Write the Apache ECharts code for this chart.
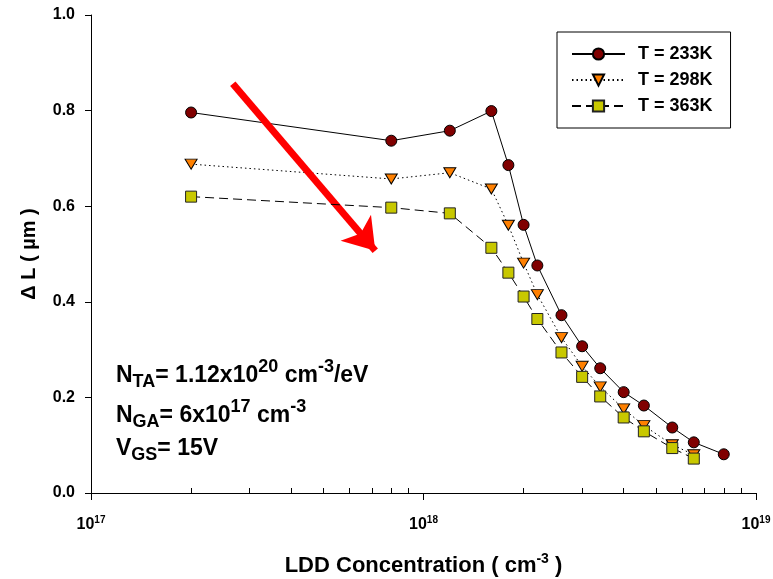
<!DOCTYPE html>
<html><head><meta charset="utf-8">
<script src="https://cdn.jsdelivr.net/npm/echarts@6/dist/echarts.min.js"></script>
<style>html,body{margin:0;padding:0;background:#fff}#c{width:773px;height:579px}</style>
</head><body><div id="c"></div>
<script>
const seriesNames = ['T = 233K', 'T = 298K', 'T = 363K'];
const conc233 = [2e17, 8e17, 1.2e18, 1.6e18, 1.8e18, 2e18, 2.2e18, 2.6e18, 3e18, 3.4e18, 4e18, 4.6e18, 5.6e18, 6.5e18, 8e18];
const dL233   = [0.796, 0.737, 0.758, 0.799, 0.686, 0.561, 0.476, 0.372, 0.307, 0.261, 0.211, 0.183, 0.137, 0.106, 0.081];
const conc298 = [2e17, 8e17, 1.2e18, 1.6e18, 1.8e18, 2e18, 2.2e18, 2.6e18, 3e18, 3.4e18, 4e18, 4.6e18, 5.6e18, 6.5e18];
const dL298   = [0.688, 0.657, 0.670, 0.636, 0.560, 0.481, 0.415, 0.325, 0.265, 0.222, 0.176, 0.141, 0.101, 0.080];
const conc363 = [2e17, 8e17, 1.2e18, 1.6e18, 1.8e18, 2e18, 2.2e18, 2.6e18, 3e18, 3.4e18, 4e18, 4.6e18, 5.6e18, 6.5e18];
const dL363   = [0.620, 0.597, 0.585, 0.513, 0.461, 0.411, 0.364, 0.294, 0.243, 0.202, 0.158, 0.129, 0.094, 0.072];
const xMajorTicks = [1e17, 1e18, 1e19];
const xMinorTicks = [2e17, 3e17, 4e17, 5e17, 6e17, 7e17, 8e17, 9e17, 2e18, 3e18, 4e18, 5e18, 6e18, 7e18, 8e18, 9e18];
const yTicks = [0, 0.2, 0.4, 0.6, 0.8, 1.0];
const arrowStart = [2.67e17, 0.856];
const arrowEnd = [7.16e17, 0.507];

const FF = "'Liberation Sans', Arial, Helvetica, sans-serif";

function pairs(xs, ys) { return xs.map((x, i) => [x, ys[i]]); }

const chart = echarts.init(document.getElementById('c'), null, {renderer: 'canvas'});

const supRich = {
  n: {fontSize: 23, fontWeight: 'bold', fontFamily: FF, fill: '#000', color: '#000'},
  sub: {fontSize: 18, fontWeight: 'bold', fontFamily: FF, fill: '#000', color: '#000', padding: [13, 0, 0, 0]},
  sup: {fontSize: 18, fontWeight: 'bold', fontFamily: FF, fill: '#000', color: '#000', padding: [0, 0, 17, 0]}
};

const option = {
  animation: false,
  backgroundColor: '#fff',
  grid: {left: 91, right: 17, top: 15, bottom: 86, containLabel: false, outerBoundsMode: 'none'},
  legend: {
    data: seriesNames,
    orient: 'vertical',
    left: 557, top: 32,
    padding: [13, 18, 13, 14],
    itemGap: 8,
    itemWidth: 53, itemHeight: 14,
    borderColor: '#000', borderWidth: 1, borderRadius: 0,
    backgroundColor: '#fff',
    textStyle: {fontSize: 18, fontWeight: 'bold', color: '#000', fontFamily: FF, padding: [0, 0, 0, 8]}
  },
  xAxis: [{
    type: 'log', logBase: 10, min: 1e17, max: 1e19, position: 'bottom',
    name: 'LDD Concentration ( cm{sup|-3} )',
    nameLocation: 'middle', nameGap: 59,
    nameTextStyle: {
      fontSize: 22, fontWeight: 'bold', color: '#000', fontFamily: FF,
      rich: {sup: {fontSize: 14, fontWeight: 'bold', color: '#000', fontFamily: FF, padding: [0, 0, 13, 0]}}
    },
    axisLine: {show: true, lineStyle: {color: '#000', width: 1}},
    axisTick: {show: true, inside: false, length: 7, customValues: xMajorTicks, lineStyle: {color: '#000'}},
    minorTick: {show: false},
    splitLine: {show: false},
    axisLabel: {
      show: true, margin: 22, customValues: xMajorTicks,
      fontSize: 16, fontWeight: 'bold', color: '#000', fontFamily: FF,
      formatter: v => '{base|10}{exp|' + Math.round(Math.log10(v)) + '}',
      rich: {
        base: {fontSize: 16, fontWeight: 'bold', color: '#000', fontFamily: FF},
        exp: {fontSize: 10, fontWeight: 'bold', color: '#000', fontFamily: FF, padding: [0, 0, 10, 0]}
      }
    }
  }, {
    type: 'log', logBase: 10, min: 1e17, max: 1e19, position: 'bottom', gridIndex: 0,
    axisLine: {show: false},
    axisTick: {show: true, inside: true, length: 5, customValues: xMinorTicks, lineStyle: {color: '#000'}},
    axisLabel: {show: false},
    splitLine: {show: false}
  }],
  yAxis: {
    type: 'value', min: 0, max: 1, interval: 0.2,
    name: 'Δ L ( µm )', nameLocation: 'middle', nameGap: 52,
    nameTextStyle: {fontSize: 20, fontWeight: 'bold', color: '#000', fontFamily: FF},
    axisLine: {show: true, lineStyle: {color: '#000', width: 1}},
    axisTick: {show: true, inside: false, length: 6, lineStyle: {color: '#000'}},
    splitLine: {show: false},
    axisLabel: {
      margin: 16, fontSize: 16, fontWeight: 'bold', color: '#000', fontFamily: FF,
      customValues: yTicks,
      formatter: v => v.toFixed(1)
    }
  },
  graphic: [
    {type: 'text', left: 116, top: 358, silent: true,
     style: {text: '{n|N}{sub|TA}{n|= 1.12x10}{sup|20}{n| cm}{sup|-3}{n|/eV}', rich: supRich}},
    {type: 'text', left: 116, top: 398, silent: true,
     style: {text: '{n|N}{sub|GA}{n|= 6x10}{sup|17}{n| cm}{sup|-3}', rich: supRich}},
    {type: 'text', left: 116, top: 437, silent: true,
     style: {text: '{n|V}{sub|GS}{n|= 15V}', rich: supRich}}
  ],
  series: [
    {
      name: seriesNames[0], type: 'line', xAxisIndex: 0,
      data: pairs(conc233, dL233),
      symbol: 'circle', symbolSize: 11,
      lineStyle: {color: '#000', width: 1, type: 'solid'},
      itemStyle: {color: '#800000', borderColor: '#000', borderWidth: 1},
      z: 3,
      markLine: {
        silent: true, symbol: ['none', 'arrow'], symbolSize: 30,
        label: {show: false},
        lineStyle: {color: '#ff0000', width: 7, type: 'solid'},
        emphasis: {disabled: true},
        data: [[{coord: arrowStart}, {coord: arrowEnd}]]
      }
    },
    {
      name: seriesNames[1], type: 'line', xAxisIndex: 0,
      data: pairs(conc298, dL298),
      symbol: 'triangle', symbolRotate: 180, symbolSize: [12, 10],
      lineStyle: {color: '#000', width: 1, type: [1.5, 3]},
      itemStyle: {color: '#ff8000', borderColor: '#000', borderWidth: 1},
      z: 4
    },
    {
      name: seriesNames[2], type: 'line', xAxisIndex: 0,
      data: pairs(conc363, dL363),
      symbol: 'rect', symbolSize: 11,
      lineStyle: {color: '#000', width: 1, type: [9, 5]},
      itemStyle: {color: '#c8c800', borderColor: '#222', borderWidth: 1},
      z: 5
    }
  ]
};
chart.setOption(option);
</script>
</body></html>
